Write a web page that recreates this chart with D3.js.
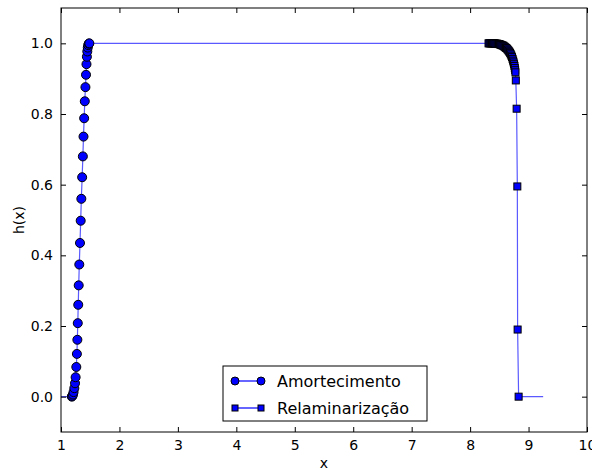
<!DOCTYPE html>
<html>
<head>
<meta charset="utf-8">
<script src="https://cdn.jsdelivr.net/npm/d3@7"></script>
<style>
  body { margin: 0; background: #fff; }
  text { font-family: "DejaVu Sans", sans-serif; }
</style>
</head>
<body>
<div id="app"></div>
<script>
// data
var xTicks = [1,2,3,4,5,6,7,8,9,10];
var yTicks = [0.0,0.2,0.4,0.6,0.8,1.0];

var amortX = [1.185,1.195,1.205,1.215,1.228,1.24,1.25,1.262,1.272,1.28,1.287,1.295,1.303,1.313,1.325,1.337,1.348,1.362,1.374,1.385,1.396,1.407,1.418,1.428,1.436,1.443,1.45,1.458,1.466,1.475,1.485];
var amortH = [0.0,0.002,0.006,0.013,0.024,0.038,0.055,0.084,0.121,0.161,0.208,0.260,0.315,0.374,0.435,0.498,0.560,0.621,0.680,0.736,0.788,0.836,0.876,0.911,0.941,0.962,0.977,0.988,0.995,0.999,1.0];
// line-only ends of the Amortecimento curve (no markers)
var amortStart = [0.9, 0.0];
var amortEnd = [8.315, 1.0];

var relamX = [8.315,8.33,8.345,8.36,8.375,8.39,8.405,8.42,8.435,8.45,8.465,8.48,8.495,8.51,8.525,8.54,8.555,8.57,8.585,8.6,8.615,8.63,8.645,8.66,8.672,8.684,8.696,8.707,8.717,8.727,8.736,8.744,8.752,8.759,8.765,8.771,8.776,8.782,8.796,8.808,8.813,8.83];
var relamH = [1.0,1.0,1.0,1.0,1.0,1.0,1.0,1.0,0.999,0.999,0.999,0.998,0.998,0.997,0.996,0.995,0.994,0.993,0.991,0.989,0.987,0.985,0.982,0.979,0.976,0.973,0.969,0.965,0.961,0.956,0.951,0.946,0.941,0.936,0.930,0.924,0.918,0.895,0.815,0.595,0.19,0.0];
// line-only end of the Relaminarização curve
var relamEnd = [9.25, 0.0];

var seriesNames = ['Amortecimento','Relaminarização'];

var W = 592, H = 470;
var mLeft = 61, mRight = 587, mTop = 8, mBottom = 432;

var svg = d3.select('#app').append('svg')
    .attr('width',W)
    .attr('height',H);

var x = d3.scaleLinear().domain([1,10]).range([mLeft,mRight]);
var y = d3.scaleLinear().domain([-0.1,1.1]).range([mBottom,mTop]);

svg.append('defs').append('clipPath').attr('id','clip')
  .append('rect')
    .attr('x',mLeft).attr('y',mTop)
    .attr('width',mRight-mLeft).attr('height',mBottom-mTop);

var plot = svg.append('g').attr('clip-path','url(#clip)');

var line = d3.line().x(function(d){return x(d[0])}).y(function(d){return y(d[1])});

var amortPts = amortX.map(function(v,i){return [v,amortH[i]]});
var relamPts = relamX.map(function(v,i){return [v,relamH[i]]});

var lineColor = '#0000ff';

plot.append('path')
    .attr('d',line([amortStart].concat(amortPts,[amortEnd])))
    .attr('fill','none')
    .attr('stroke',lineColor)
    .attr('stroke-opacity',0.65)
    .attr('stroke-width',1.2);

plot.append('path')
    .attr('d',line(relamPts.concat([relamEnd])))
    .attr('fill','none')
    .attr('stroke',lineColor)
    .attr('stroke-opacity',0.65)
    .attr('stroke-width',1.2);

plot.selectAll('circle.amort')
    .data(amortPts)
  .enter().append('circle')
    .attr('class','amort')
    .attr('cx',function(d){return x(d[0])})
    .attr('cy',function(d){return y(d[1])})
    .attr('r',4.5)
    .attr('fill','#0000ff')
    .attr('stroke','#000')
    .attr('stroke-width',1);

var sq = 7;
plot.selectAll('rect.relam')
    .data(relamPts)
  .enter().append('rect')
    .attr('class','relam')
    .attr('x',function(d){return x(d[0])-sq/2})
    .attr('y',function(d){return y(d[1])-sq/2})
    .attr('width',sq)
    .attr('height',sq)
    .attr('fill','#0000ff')
    .attr('stroke','#000')
    .attr('stroke-width',1);

// frame
svg.append('rect')
    .attr('x',mLeft).attr('y',mTop)
    .attr('width',mRight-mLeft).attr('height',mBottom-mTop)
    .attr('fill','none')
    .attr('stroke','#000')
    .attr('stroke-width',1);

// axes with inward ticks on all sides
var tl = 5;
var axB = svg.append('g').attr('transform','translate(0,'+mBottom+')')
    .call(d3.axisBottom(x).tickValues(xTicks).tickSizeInner(-tl).tickSizeOuter(0).tickPadding(8).tickFormat(d3.format('d')));
var axT = svg.append('g').attr('transform','translate(0,'+mTop+')')
    .call(d3.axisTop(x).tickValues(xTicks).tickSizeInner(-tl).tickSizeOuter(0).tickFormat(''));
var axL = svg.append('g').attr('transform','translate('+mLeft+',0)')
    .call(d3.axisLeft(y).tickValues(yTicks).tickSizeInner(-tl).tickSizeOuter(0).tickPadding(8).tickFormat(d3.format('.1f')));
var axR = svg.append('g').attr('transform','translate('+mRight+',0)')
    .call(d3.axisRight(y).tickValues(yTicks).tickSizeInner(-tl).tickSizeOuter(0).tickFormat(''));

[axB,axT,axL,axR].forEach(function(a){
  a.select('.domain').remove();
  a.selectAll('.tick line').attr('stroke','#000');
  a.selectAll('.tick text')
    .attr('fill','#000')
    .style('font-family','"DejaVu Sans", sans-serif')
    .style('font-size','14px');
});

// axis labels
svg.append('text')
    .attr('x',(mLeft+mRight)/2)
    .attr('y',468)
    .attr('text-anchor','middle')
    .style('font-size','14px')
    .text('x');

svg.append('text')
    .attr('transform','translate(24,'+((mTop+mBottom)/2)+') rotate(-90)')
    .attr('text-anchor','middle')
    .style('font-size','14px')
    .text('h(x)');

// legend
var lg = svg.append('g').attr('transform','translate(223,366)');
lg.append('rect')
    .attr('width',204).attr('height',55)
    .attr('fill','#fff')
    .attr('stroke','#000')
    .attr('stroke-width',1);

seriesNames.forEach(function(name,i){
  var cy = 15 + i*27;
  lg.append('line')
      .attr('x1',12).attr('x2',38)
      .attr('y1',cy).attr('y2',cy)
      .attr('stroke','#0000ff').attr('stroke-width',1.2);
  [12,38].forEach(function(px){
    if(i===0){
      lg.append('circle').attr('cx',px).attr('cy',cy).attr('r',4)
        .attr('fill','#0000ff').attr('stroke','#000');
    } else {
      lg.append('rect').attr('x',px-3).attr('y',cy-3)
        .attr('width',6).attr('height',6)
        .attr('fill','#0000ff').attr('stroke','#000');
    }
  });
  lg.append('text')
      .attr('x',54)
      .attr('y',cy+6)
      .style('font-size','16px')
      .text(name);
});
</script>
</body>
</html>
